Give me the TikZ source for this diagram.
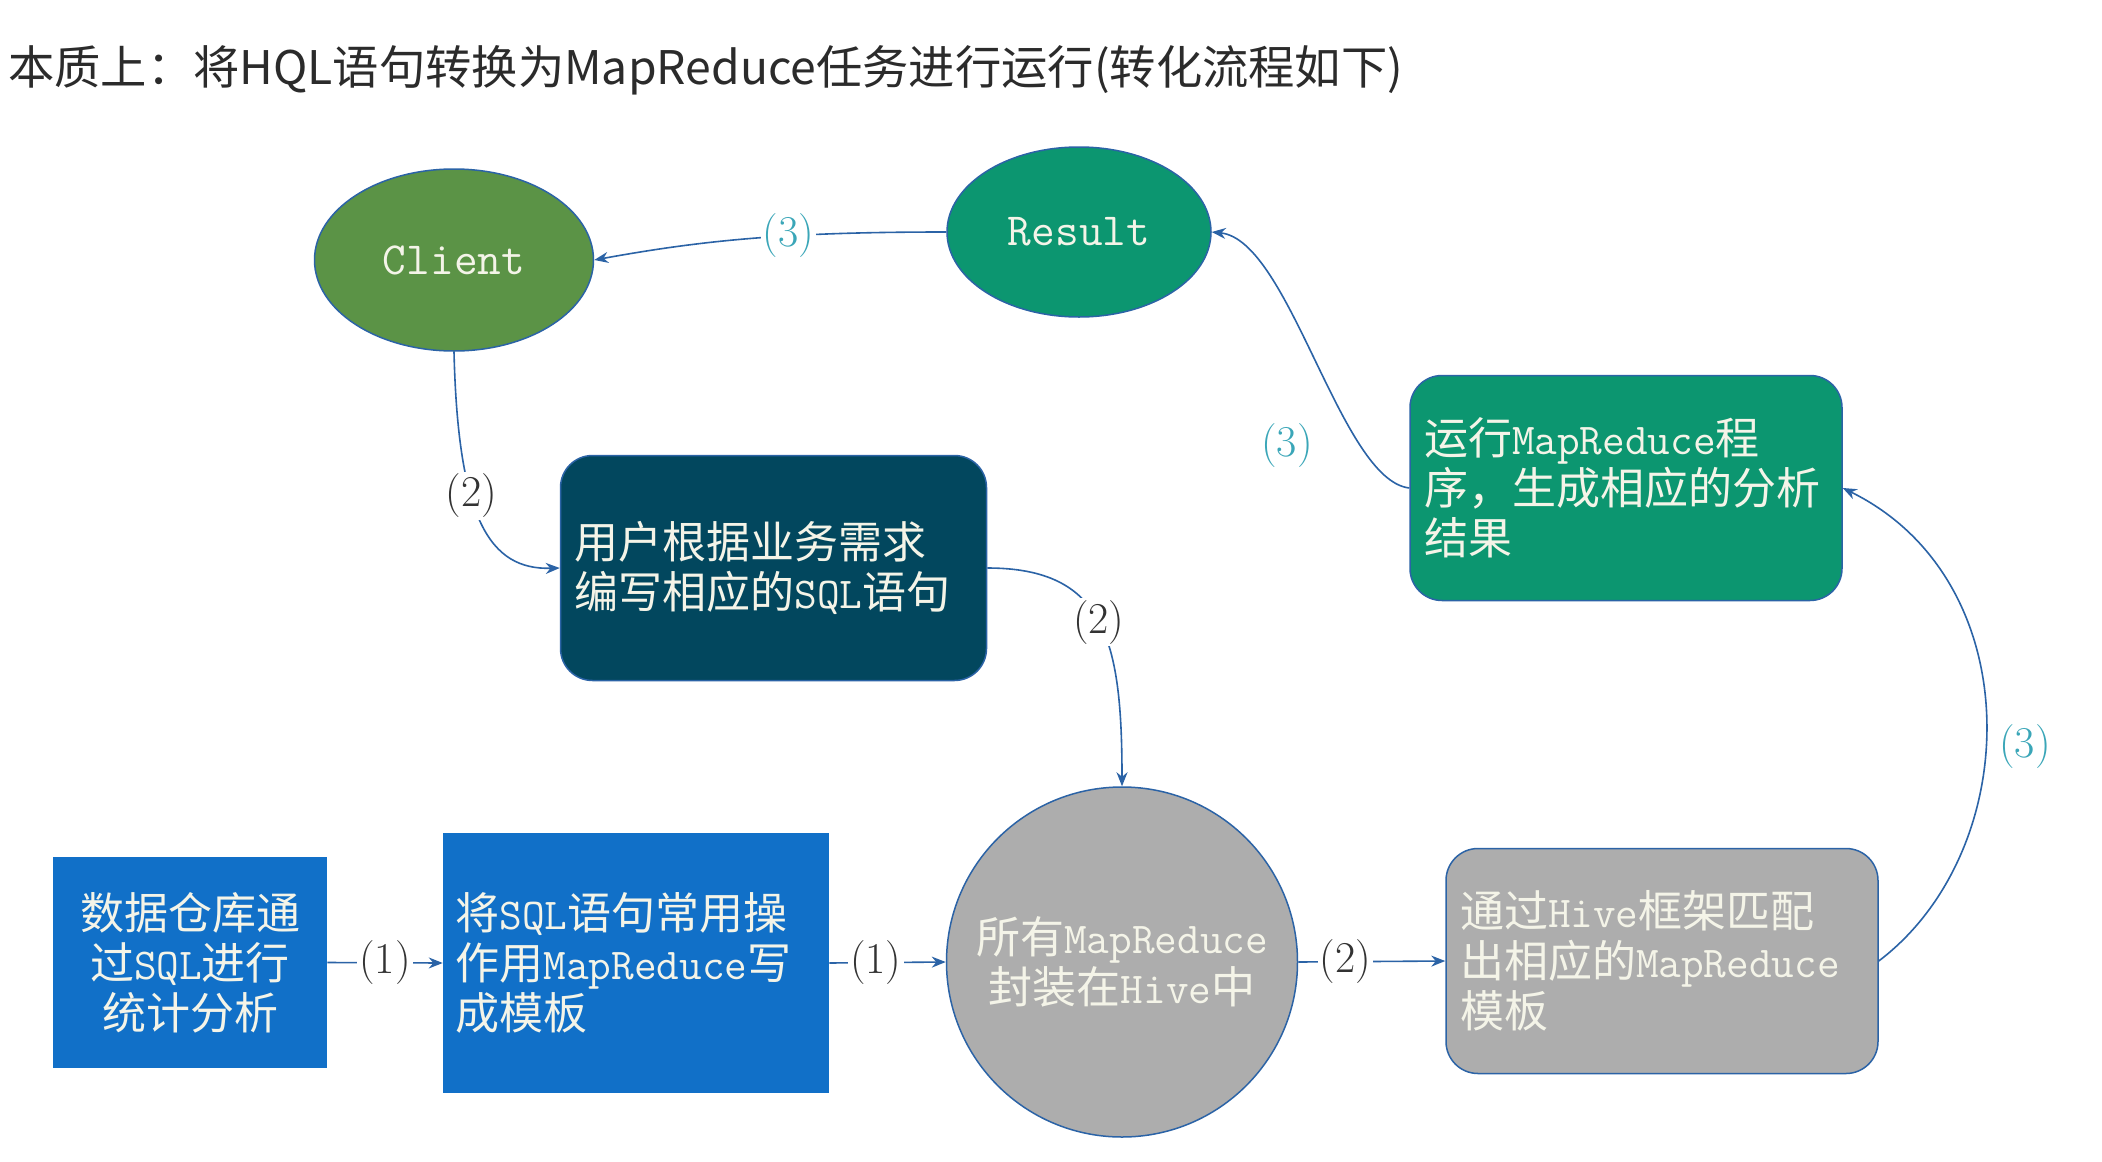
\documentclass[tikz,border=0pt]{standalone}
\usepackage{fontspec}
\newfontfamily\cjk{Noto Sans CJK SC}
\usetikzlibrary{arrows.meta,shapes.geometric}
\definecolor{clientgreen}{HTML}{5B9346}
\definecolor{tealgreen}{HTML}{0C9670}
\definecolor{darkteal}{HTML}{02475E}
\definecolor{boxblue}{HTML}{1170C8}
\definecolor{boxgray}{HTML}{ADADAD}
\definecolor{edgeblue}{HTML}{2B63A6}
\definecolor{lblteal}{HTML}{3AA6B8}
\definecolor{txtlight}{HTML}{F4F4E8}
\definecolor{titlecol}{HTML}{2B2B2B}
\newcommand\mlat[1]{{\ttfamily #1}}
\begin{document}
\begin{tikzpicture}[x=1pt,y=-1pt,
  shp/.style={draw=edgeblue, line width=1.5pt, text=txtlight, font=\cjk\fontsize{44}{50}\selectfont},
  ell/.style={shp, ellipse, inner sep=0pt, align=center},
  rbox/.style={shp, rectangle, rounded corners=32pt, align=left, inner xsep=14pt},
  sbox/.style={shp, rectangle, draw=boxblue, fill=boxblue},
  conn/.style={draw=edgeblue, line width=1.6pt, -{Stealth[length=14pt,width=11pt]}},
  lbl/.style={font=\fontsize{44}{46}\selectfont, fill=white, inner sep=2pt, text=black!80},
  lblc/.style={lbl, text=lblteal},
]
\fill[white] (0,0) rectangle (2102,1162);
\useasboundingbox (0,0) rectangle (2102,1162);

\node[anchor=west, font=\cjk\fontsize{46.3}{50}\selectfont, text=titlecol, inner sep=0pt] (title) at (8,70) {本质上：将HQL语句转换为MapReduce任务进行运行(转化流程如下)};

\node[ell, fill=clientgreen, minimum width=279pt, minimum height=182pt] (client) at (454,260) {\fontsize{46}{50}\selectfont\ttfamily Client};
\node[ell, fill=tealgreen, minimum width=264pt, minimum height=170pt] (result) at (1079,232) {\fontsize{46}{50}\selectfont\ttfamily Result};

\node[rbox, fill=darkteal, minimum width=426pt, minimum height=225pt, text width=398pt] (sql) at (773.5,568) {用户根据业务需求\\编写相应的\mlat{SQL}语句};
\node[rbox, fill=tealgreen, minimum width=432pt, minimum height=225pt, text width=404pt] (green) at (1626,488) {运行\mlat{MapReduce}程\\序，生成相应的分析\\结果};
\node[rbox, fill=boxgray, minimum width=432pt, minimum height=225pt, text width=404pt] (gray) at (1662,961) {通过\mlat{Hive}框架匹配\\出相应的\mlat{MapReduce}\\模板};

\node[ell, fill=boxgray, minimum width=351pt, minimum height=350pt, inner xsep=-40pt, inner ysep=-10pt] (circ) at (1122,962) {所有\mlat{MapReduce}\\封装在\mlat{Hive}中};

\node[sbox, minimum width=273pt, minimum height=209pt, align=center] (box1) at (190,962.5) {数据仓库通\\过\mlat{SQL}进行\\统计分析};
\node[sbox, minimum width=385pt, minimum height=259pt, align=left, inner xsep=12pt, text width=361pt] (box2) at (636,963) {将\mlat{SQL}语句常用操\\作用\mlat{MapReduce}写\\成模板};

\draw[conn] (result.west) .. controls +(-160,0) and +(110,-20) .. (client.east) node[lblc, pos=0.39] {(3)};
\draw[conn] (client.south) .. controls (458,520) and (490,570) .. (sql.west) node[lbl, pos=0.38] {(2)};
\draw[conn] (sql.east) .. controls (1105,568) and (1122,640) .. (circ.north) node[lbl, pos=0.5] {(2)};
\draw[conn] (box1.east) -- (box2.west) node[lbl, midway] {(1)};
\draw[conn] (box2.east) -- (circ.west) node[lbl, pos=0.4] {(1)};
\draw[conn] (circ.east) -- (gray.west) node[lbl, pos=0.32] {(2)};
\draw[conn] (gray.east) .. controls (2025,850) and (2030,580) .. (green.east);
\node[lblc] (l3b) at (2025,747) {(3)};
\draw[conn] (green.west) .. controls (1340,480) and (1290,240) .. (result.east);
\node[lblc] (l3a) at (1287,446) {(3)};
\end{tikzpicture}
\end{document}
